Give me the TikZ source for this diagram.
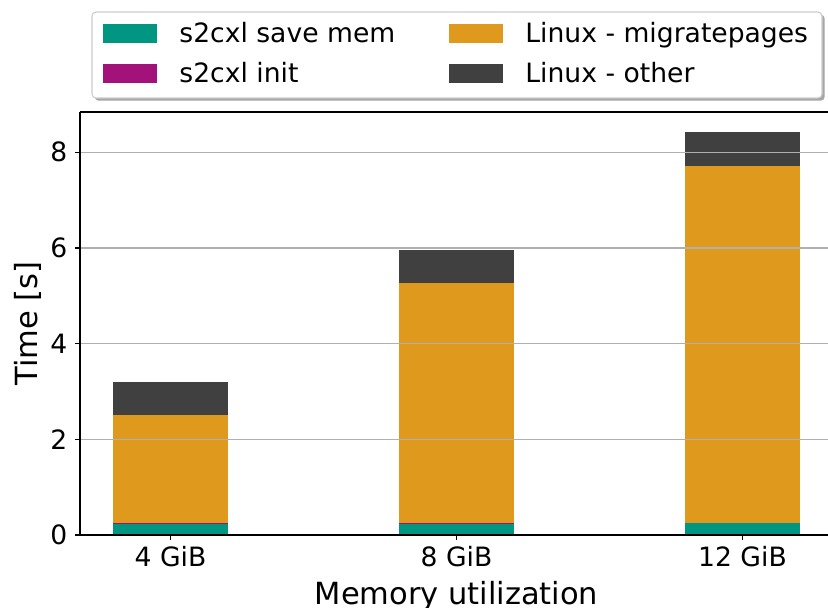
\documentclass[tikz,border=0pt]{standalone}
\usepackage{fontspec}
\setmainfont{DejaVu Sans}

\definecolor{savemem}{HTML}{009682}
\definecolor{initcol}{HTML}{A2127A}
\definecolor{migcol}{HTML}{DF9A1E}
\definecolor{othercol}{HTML}{404040}
\definecolor{gridcol}{HTML}{B0B0B0}
\definecolor{framecol}{HTML}{CCCCCC}
\definecolor{shadowcol}{HTML}{A6A6A6}

\tikzset{
    ticklabel/.style={inner sep=0pt, font=\fontsize{26.6}{30}\selectfont},
    axislabel/.style={inner sep=0pt, font=\fontsize{30.5}{34}\selectfont},
    legtext/.style={inner sep=0pt, anchor=base west, font=\fontsize{26.6}{30}\selectfont},
    legpatch/.style={inner sep=0pt, minimum width=54pt, minimum height=19pt},
    gridline/.style={draw=gridcol, line width=1.1pt},
    spine/.style={draw=black, line width=1.1pt},
    tickmark/.style={draw=black, line width=1.1pt},
    savebar/.style={fill=savemem},
    initbar/.style={fill=initcol},
    migbar/.style={fill=migcol},
    otherbar/.style={fill=othercol}
}

\begin{document}
\begin{tikzpicture}[x=1pt, y=1pt]
    \useasboundingbox (0,0) rectangle (828,608);

    \begin{scope}[shift={(170.5,73)}, x=286pt, y=47.84pt]
        % bars
        \fill[savebar] (-0.2,0) rectangle (0.2,0.245);
        \fill[initbar] (-0.2,0.245) rectangle (0.2,0.26);
        \fill[migbar] (-0.2,0.26) rectangle (0.2,2.508);
        \fill[otherbar] (-0.2,2.508) rectangle (0.2,3.198);

        \fill[savebar] (0.8,0) rectangle (1.2,0.245);
        \fill[initbar] (0.8,0.245) rectangle (1.2,0.26);
        \fill[migbar] (0.8,0.26) rectangle (1.2,5.274);
        \fill[otherbar] (0.8,5.274) rectangle (1.2,5.957);

        \fill[savebar] (1.8,0) rectangle (2.2,0.25);
        \fill[migbar] (1.8,0.25) rectangle (2.2,7.72);
        \fill[otherbar] (1.8,7.72) rectangle (2.2,8.42);

        % grid
        \draw[gridline] (-0.3164,2) -- (2.3,2);
        \draw[gridline] (-0.3164,4) -- (2.3,4);
        \draw[gridline] (-0.3164,6) -- (2.3,6);
        \draw[gridline] (-0.3164,8) -- (2.3,8);

        % axes
        \coordinate (origin) at (-0.3164,0);
        \coordinate (top) at (-0.3164,8.842);
        \draw[spine] (top) -- (origin) -- (2.3,0);
        \draw[spine] (top) -- (2.3,8.842);

        % y ticks
        \coordinate (y0) at (-0.3164,0);
        \coordinate (y2) at (-0.3164,2);
        \coordinate (y4) at (-0.3164,4);
        \coordinate (y6) at (-0.3164,6);
        \coordinate (y8) at (-0.3164,8);
        \draw[tickmark] (y0) -- ++(-5pt,0);
        \draw[tickmark] (y2) -- ++(-5pt,0);
        \draw[tickmark] (y4) -- ++(-5pt,0);
        \draw[tickmark] (y6) -- ++(-5pt,0);
        \draw[tickmark] (y8) -- ++(-5pt,0);
        \node[ticklabel, anchor=east] (ly0) at ([xshift=-12.5pt]y0) {0};
        \node[ticklabel, anchor=east] (ly2) at ([xshift=-12.5pt]y2) {2};
        \node[ticklabel, anchor=east] (ly4) at ([xshift=-12.5pt]y4) {4};
        \node[ticklabel, anchor=east] (ly6) at ([xshift=-12.5pt]y6) {6};
        \node[ticklabel, anchor=east] (ly8) at ([xshift=-12.5pt]y8) {8};

        % x ticks
        \coordinate (x4) at (0,0);
        \coordinate (x8) at (1,0);
        \coordinate (x12) at (2,0);
        \draw[tickmark] (x4) -- ++(0,-5pt);
        \draw[tickmark] (x8) -- ++(0,-5pt);
        \draw[tickmark] (x12) -- ++(0,-5pt);
        \node[ticklabel, anchor=north] (lx4) at ([yshift=-11pt]x4) {4 GiB};
        \node[ticklabel, anchor=north] (lx8) at ([yshift=-11pt]x8) {8 GiB};
        \node[ticklabel, anchor=north] (lx12) at ([yshift=-11pt]x12) {12 GiB};
    \end{scope}

    % axis labels
    \node[axislabel, anchor=base, rotate=90] (ylab) at (37.5,284.5) {Time [s]};
    \node[axislabel, anchor=base] (xlab) at (456.5,3.5) {Memory utilization};

    % legend
    \fill[shadowcol, rounded corners=4pt] (94.7,507.3) rectangle (824.7,593.3);
    \draw[framecol, fill=white, line width=1.1pt, rounded corners=4pt] (92,510) rectangle (822,596);
    \node[legpatch, savebar] (p1) at (130,574.5) {};
    \node[legpatch, initbar] (p2) at (130,534.5) {};
    \node[legpatch, migbar] (p3) at (476,574.5) {};
    \node[legpatch, otherbar] (p4) at (476,534.5) {};
    \node[legtext] (t1) at ([xshift=22pt, yshift=1pt]p1.south east) {s2cxl save mem};
    \node[legtext] (t2) at ([xshift=22pt, yshift=1pt]p2.south east) {s2cxl init};
    \node[legtext] (t3) at ([xshift=22pt, yshift=1pt]p3.south east) {Linux - migratepages};
    \node[legtext] (t4) at ([xshift=22pt, yshift=1pt]p4.south east) {Linux - other};
\end{tikzpicture}
\end{document}
